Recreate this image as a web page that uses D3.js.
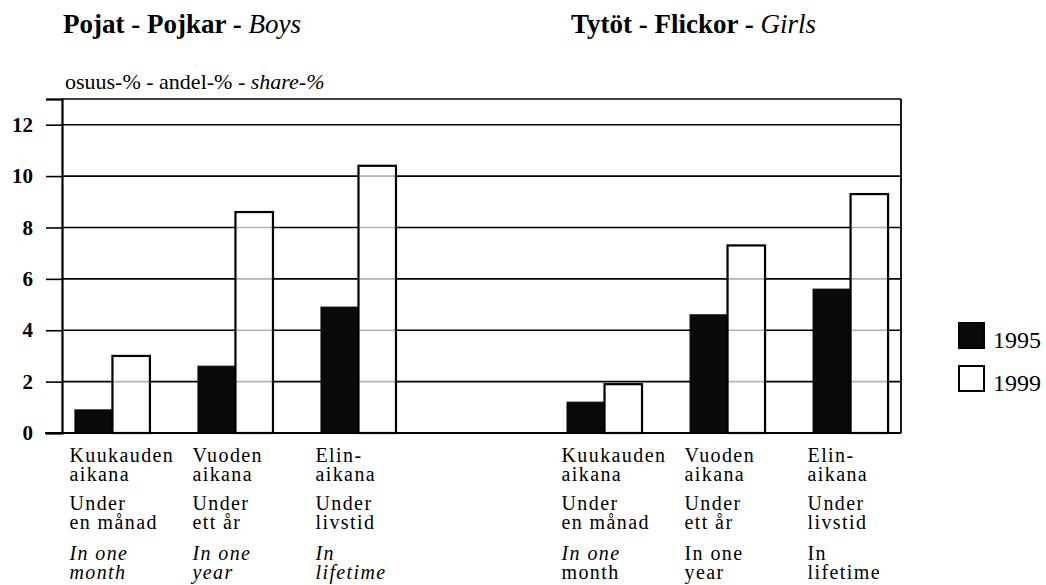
<!DOCTYPE html>
<html><head><meta charset="utf-8">
<script src="https://cdn.jsdelivr.net/npm/d3@7"></script>
<style>
body{margin:0;background:#fff;}
text{font-family:"Liberation Serif","Times New Roman",serif;fill:#000;}
</style></head>
<body><svg id="c" width="1046" height="585"></svg>
<script>
// ---- data ----
const slots = ["b-month","b-year","b-life","gap","g-month","g-year","g-life"];
const boys1995 = [0.9, 2.6, 4.9];
const boys1999 = [3.0, 8.6, 10.4];
const girls1995 = [1.2, 4.6, 5.6];
const girls1999 = [1.9, 7.3, 9.3];
const years = ["1995", "1999"];
const yTicks = [0, 2, 4, 6, 8, 10, 12];
const labelFi = [["Kuukauden","aikana"],["Vuoden","aikana"],["Elin-","aikana"]];
const labelSv = [["Under","en månad"],["Under","ett år"],["Under","livstid"]];
const labelEn = [["In one","month"],["In one","year"],["In","lifetime"]];
const titleBoys = ["Pojat - Pojkar - ", "Boys"];
const titleGirls = ["Tytöt - Flickor - ", "Girls"];
const yLabel = ["osuus-% - andel-% - ", "share-%"];

// build rows
const rows = [];
["b","g"].forEach((sex, si) => {
  const a = si === 0 ? boys1995 : girls1995;
  const b = si === 0 ? boys1999 : girls1999;
  ["month","year","life"].forEach((p, i) => {
    rows.push({slot: sex + "-" + p, idx: i, sex, v1995: a[i], v1999: b[i]});
  });
});

const svg = d3.select("#c");
const L = 62, R = 901, T = 99, B = 433;
const x = d3.scalePoint().domain(slots).range([L, R]).padding(0.41);
const y = d3.scaleLinear().domain([0, 13]).range([B, T]);
const bw = 37.5;

// gridlines
svg.append("g").selectAll("line").data(yTicks.filter(d => d > 0).concat([13]))
  .join("line").attr("x1", L).attr("x2", R)
  .attr("y1", d => y(d)).attr("y2", d => y(d))
  .attr("stroke", "#000").attr("stroke-width", 1.6);

// y axis
const yAxis = d3.axisLeft(y).tickValues(yTicks.concat([13])).tickSize(16).tickFormat(d => d === 13 ? "" : d);
const ga = svg.append("g").attr("transform", `translate(${L},0)`).call(yAxis);
ga.select(".domain").attr("stroke", "#000").attr("stroke-width", 2.2);
ga.selectAll(".tick line").attr("stroke", "#000").attr("stroke-width", 1.6);
ga.selectAll(".tick text").attr("x", -29).attr("font-size", 21).attr("font-weight", "bold")
  .attr("font-family", "Liberation Serif").attr("fill", "#000");
// right border
svg.append("line").attr("x1", R).attr("x2", R).attr("y1", T).attr("y2", B)
  .attr("stroke", "#000").attr("stroke-width", 1.8);

// bars
const gb = svg.append("g");
gb.selectAll("rect.b95").data(rows).join("rect").attr("class", "b95")
  .attr("x", d => x(d.slot) - bw).attr("width", bw)
  .attr("y", d => y(d.v1995)).attr("height", d => y(0) - y(d.v1995))
  .attr("fill", "#0a0a0a").attr("stroke", "#000").attr("stroke-width", 1);
gb.selectAll("rect.b99").data(rows).join("rect").attr("class", "b99")
  .attr("x", d => x(d.slot)).attr("width", bw)
  .attr("y", d => y(d.v1999)).attr("height", d => y(0) - y(d.v1999))
  .attr("fill", "#fff").attr("fill-opacity", 0.7).attr("stroke", "#000").attr("stroke-width", 2.2);

// baseline
svg.append("line").attr("x1", 45).attr("x2", R).attr("y1", y(0)).attr("y2", y(0))
  .attr("stroke", "#000").attr("stroke-width", 2.2);

// category labels
const blocks = [labelFi, labelSv, labelEn];
const blockY = [462, 510, 560];
const lh = 19;
rows.forEach(r => {
  blocks.forEach((blk, bi) => {
    blk[r.idx].forEach((line, li) => {
      let italic = false;
      if (bi === 2) {
        if (r.sex === "b") italic = true;
        else if (r.idx === 0 && li === 0) italic = true;
      }
      svg.append("text").attr("x", x(r.slot) - 43).attr("y", blockY[bi] + li * lh)
        .attr("font-size", 20).attr("letter-spacing", 1.4)
        .attr("font-style", italic ? "italic" : "normal").text(line);
    });
  });
});

// titles
function title(xp, parts) {
  const t = svg.append("text").attr("x", xp).attr("y", 33).attr("font-size", 27);
  t.append("tspan").attr("font-weight", "bold").text(parts[0]);
  t.append("tspan").attr("font-style", "italic").text(parts[1]);
}
title(63, titleBoys);
title(571, titleGirls);

// y label
const yl = svg.append("text").attr("x", 65).attr("y", 89).attr("font-size", 22);
yl.append("tspan").text(yLabel[0]);
yl.append("tspan").attr("font-style", "italic").text(yLabel[1]);

// legend
const lg = svg.append("g");
years.forEach((yr, i) => {
  const yy = 323 + i * 43;
  lg.append("rect").attr("x", 959).attr("y", yy).attr("width", 25).attr("height", 25)
    .attr("fill", i === 0 ? "#0a0a0a" : "#fff").attr("stroke", "#000").attr("stroke-width", 2);
  lg.append("text").attr("x", 993).attr("y", yy + 25).attr("font-size", 24).text(yr);
});
</script></body></html>
